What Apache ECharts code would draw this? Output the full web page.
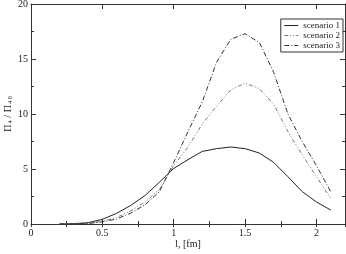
<!DOCTYPE html>
<html><head><meta charset="utf-8">
<script src="https://cdn.jsdelivr.net/npm/echarts@6/dist/echarts.min.js"></script>
<style>html,body{margin:0;padding:0;background:#fff}#c{width:346px;height:254px}</style>
</head><body><div id="c"></div>
<script>
const lValues = [0.2,0.3,0.4,0.5,0.6,0.7,0.8,0.9,1.0,1.1,1.2,1.3,1.4,1.5,1.6,1.7,1.8,1.9,2.0,2.1];
const scenario1 = [0,0.03,0.12,0.42,0.97,1.7,2.6,3.8,5.05,5.85,6.6,6.85,7.0,6.85,6.45,5.6,4.3,2.95,2.0,1.27];
const scenario2 = [0,0.01,0.06,0.25,0.6,1.2,2.0,3.15,5.3,7.0,9.1,10.7,12.2,12.8,12.3,10.9,8.4,6.3,4.3,2.33];
const scenario3 = [0,0.01,0.04,0.2,0.45,1.0,1.75,2.95,5.6,8.4,11.1,14.7,16.8,17.3,16.5,13.8,10.0,7.5,5.3,2.94];
const seriesNames = ['scenario 1','scenario 2','scenario 3'];
const xTickLabels = ['0','0.5','1','1.5','2'];
const yTickLabels = ['0','5','10','15','20'];

const font = 'Liberation Serif';
const ax = '#333';
const chart = echarts.init(document.getElementById('c'), null, {renderer:'canvas'});
const pairs = arr => lValues.map((l,i)=>[l,arr[i]]);
const baseX = {type:'value', min:0, max:2.2, interval:0.5, splitLine:{show:false}};
const baseY = {type:'value', min:0, max:20, interval:5, splitLine:{show:false}};
chart.setOption({
  animation:false,
  grid:{left:31, right:1, top:4, bottom:30, containLabel:false, outerBoundsMode:'none'},
  legend:{
    data:seriesNames, orient:'vertical', right:3, top:19,
    backgroundColor:'#fff', borderColor:ax, borderWidth:1, padding:[2,3,2,3],
    itemWidth:14, itemHeight:6, itemGap:1,
    itemStyle:{color:'rgba(0,0,0,0)', borderColor:'rgba(0,0,0,0)', borderWidth:0},
    lineStyle:{width:1},
    textStyle:{fontFamily:font, fontSize:9, color:'#222', padding:[0,0,0,0]}
  },
  xAxis:[
    Object.assign({}, baseX, {position:'bottom',
      axisLine:{show:true, onZero:false, lineStyle:{color:ax,width:1}},
      axisTick:{show:true, inside:true, length:5, lineStyle:{color:ax}},
      axisLabel:{margin:4, fontFamily:font, fontSize:10, color:'#222', showMaxLabel:false,
        formatter:v=>{const i=Math.round(v/0.5); return (Math.abs(v-i*0.5)<1e-6 && xTickLabels[i]!==undefined)?xTickLabels[i]:'';}},
      name:'l, [fm]', nameLocation:'middle', nameGap:15, nameMoveOverlap:false,
      nameTextStyle:{fontFamily:font, fontSize:10, color:'#222'}}),
    Object.assign({}, baseX, {position:'bottom', interval:0.25,
      axisLine:{show:false}, axisTick:{show:true, inside:true, length:3, lineStyle:{color:ax}},
      axisLabel:{show:false}}),
    Object.assign({}, baseX, {position:'top',
      axisLine:{show:true, onZero:false, lineStyle:{color:ax,width:1}},
      axisTick:{show:true, inside:true, length:5, lineStyle:{color:ax}},
      axisLabel:{show:false}}),
    Object.assign({}, baseX, {position:'top', interval:0.25,
      axisLine:{show:false}, axisTick:{show:true, inside:true, length:3, lineStyle:{color:ax}},
      axisLabel:{show:false}})
  ],
  yAxis:[
    Object.assign({}, baseY, {position:'left',
      axisLine:{show:true, onZero:false, lineStyle:{color:ax,width:1}},
      axisTick:{show:true, inside:true, length:5, lineStyle:{color:ax}},
      minorTick:{show:true, splitNumber:2, length:3, lineStyle:{color:ax}},
      axisLabel:{margin:3, fontFamily:font, fontSize:10, color:'#222',
        formatter:v=>{const i=Math.round(v/5); return yTickLabels[i]!==undefined?yTickLabels[i]:'';}},
      name:'{m|Π}{s| 4}{m| / Π}{s| 4 0}', nameLocation:'middle', nameGap:18, nameRotate:90, nameMoveOverlap:false,
      nameTextStyle:{rich:{m:{fontFamily:font,fontSize:10,color:'#222'}, s:{fontFamily:font,fontSize:6,color:'#222',verticalAlign:'bottom',padding:[4,0,0,0]}}}}),
    Object.assign({}, baseY, {position:'right',
      axisLine:{show:true, onZero:false, lineStyle:{color:ax,width:1}},
      axisTick:{show:true, inside:true, length:5, lineStyle:{color:ax}},
      minorTick:{show:true, splitNumber:2, length:3, lineStyle:{color:ax}},
      axisLabel:{show:false}})
  ],
  series:[
    {name:seriesNames[0], type:'line', data:pairs(scenario1), symbol:'none', smooth:false,
      lineStyle:{color:'#222', width:1, type:'solid'}, itemStyle:{color:'#222'}},
    {name:seriesNames[1], type:'line', data:pairs(scenario2), symbol:'none', smooth:false,
      lineStyle:{color:'#777', width:1, type:[4,2,1,2,1,2]}, itemStyle:{color:'#777'}},
    {name:seriesNames[2], type:'line', data:pairs(scenario3), symbol:'none', smooth:false,
      lineStyle:{color:'#333', width:1, type:[5,2,1,2]}, itemStyle:{color:'#333'}}
  ]
});
</script></body></html>
